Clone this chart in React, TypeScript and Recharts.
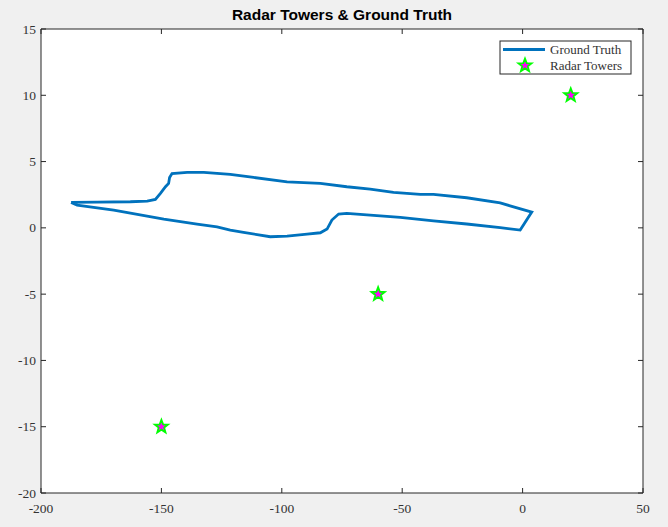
import { CartesianGrid, ReferenceArea, Scatter, ScatterChart, XAxis, YAxis } from "recharts";

// ground truth loop (x, y pairs in order)
const trackX = [
  -187.5, -176.7, -162.9, -155.9, -152.5, -150.4, -148.3, -147.0, -146.6, -145.6, -139.3, -132.4,
  -121.4, -111.7, -97.8, -84, -73, -63.3, -53.6, -42.5, -37, -23.2, -9.3, -5.2, 3.8, -1.0,
  -9.3, -23.2, -37, -50.8, -63.3, -73, -76.4, -79.2, -81.2, -84, -89.5, -97.8, -104.8, -115.9,
  -121.4, -126.9, -135.2, -149, -169.8, -185, -187.5,
];
const trackY = [
  1.92, 1.94, 1.97, 2.02, 2.15, 2.6, 3.1, 3.35, 3.8, 4.1, 4.18, 4.18,
  4.03, 3.8, 3.47, 3.35, 3.1, 2.92, 2.67, 2.52, 2.52, 2.27, 1.89, 1.66, 1.19, -0.17,
  0.01, 0.29, 0.53, 0.79, 0.96, 1.09, 1.04, 0.59, -0.09, -0.37, -0.47, -0.62, -0.67, -0.34,
  -0.17, 0.08, 0.29, 0.66, 1.34, 1.72, 1.92,
];

const towerX = [-150, -60, 20];
const towerY = [-15, -5, 10];

const xTicks = [-200, -150, -100, -50, 0, 50];
const yTicks = [-20, -15, -10, -5, 0, 5, 10, 15];

const W = 668;
const H = 527;
const PLOT = { left: 41, right: 643, top: 29, bottom: 493 };
const TICK_LEN = 5;
const AXIS_COLOR = "#262626";
const LINE_COLOR = "#0072BD";
const LABEL_FONT = '"Liberation Serif", "DejaVu Serif", serif';

const track = trackX.map((x, i) => ({ x, y: trackY[i] }));
const towers = towerX.map((x, i) => ({ x, y: towerY[i] }));

function starPoints(cx: number, cy: number, r: number) {
  const pts: string[] = [];
  for (let i = 0; i < 10; i++) {
    const rr = i % 2 === 0 ? r : r * 0.42;
    const a = -Math.PI / 2 + (i * Math.PI) / 5;
    pts.push(`${cx + rr * Math.cos(a)},${cy + rr * Math.sin(a)}`);
  }
  return pts.join(" ");
}

function Star(props: any) {
  const { cx, cy } = props;
  return <polygon points={starPoints(cx, cy, 7)} fill="#ff00ff" stroke="#00ff00" strokeWidth={1.8} />;
}

function NoDot() {
  return <g />;
}

function XTick(props: any) {
  const { x, payload } = props;
  return (
    <g>
      <line x1={x} x2={x} y1={PLOT.bottom} y2={PLOT.bottom - TICK_LEN} stroke={AXIS_COLOR} />
      <line x1={x} x2={x} y1={PLOT.top} y2={PLOT.top + TICK_LEN} stroke={AXIS_COLOR} />
      <text x={x} y={PLOT.bottom + 20} textAnchor="middle" fontFamily={LABEL_FONT} fontSize={13.5} fill="#333">
        {payload.value}
      </text>
    </g>
  );
}

function YTick(props: any) {
  const { y, payload } = props;
  return (
    <g>
      <line x1={PLOT.left} x2={PLOT.left + TICK_LEN} y1={y} y2={y} stroke={AXIS_COLOR} />
      <line x1={PLOT.right} x2={PLOT.right - TICK_LEN} y1={y} y2={y} stroke={AXIS_COLOR} />
      <text x={PLOT.left - 5} y={y + 4.5} textAnchor="end" fontFamily={LABEL_FONT} fontSize={13.5} fill="#333">
        {payload.value}
      </text>
    </g>
  );
}

function LegendBox() {
  return (
    <svg width={133} height={35} style={{ position: "absolute", left: 499, top: 40 }}>
      <rect x={1} y={1} width={131} height={33} fill="#fff" stroke={AXIS_COLOR} strokeWidth={1} />
      <line x1={4} x2={46} y1={9.5} y2={9.5} stroke={LINE_COLOR} strokeWidth={2.8} />
      <polygon points={starPoints(26, 25.5, 7)} fill="#ff00ff" stroke="#00ff00" strokeWidth={1.8} />
      <text x={51} y={14} fontFamily={LABEL_FONT} fontSize={13} fill="#333">Ground Truth</text>
      <text x={51} y={30} fontFamily={LABEL_FONT} fontSize={13} fill="#333">Radar Towers</text>
    </svg>
  );
}

export default function App() {
  return (
    <div style={{ position: "absolute", left: 0, top: 0, width: W, height: H, background: "#f0f0f0" }}>
      <div
        style={{
          position: "absolute",
          left: PLOT.left,
          width: PLOT.right - PLOT.left,
          top: 6,
          textAlign: "center",
          fontFamily: '"Liberation Sans", Arial, sans-serif',
          fontWeight: "bold",
          fontSize: 15.5,
          color: "#000",
        }}
      >
        Radar Towers &amp; Ground Truth
      </div>
      <div style={{ position: "absolute", left: 0, top: 0 }}>
        <ScatterChart width={W} height={H} margin={{ top: PLOT.top, right: W - PLOT.right, bottom: 0, left: 0 }}>
          <CartesianGrid fill="#fff" horizontal={false} vertical={false} />
          <XAxis
            type="number"
            dataKey="x"
            domain={[-200, 50]}
            ticks={xTicks}
            interval={0}
            allowDataOverflow
            height={H - PLOT.bottom}
            axisLine={false}
            tickLine={false}
            tick={<XTick />}
          />
          <YAxis
            type="number"
            dataKey="y"
            domain={[-20, 15]}
            ticks={yTicks}
            interval={0}
            allowDataOverflow
            width={PLOT.left}
            axisLine={false}
            tickLine={false}
            tick={<YTick />}
          />
          <ReferenceArea x1={-200} x2={50} y1={-20} y2={15} fill="none" stroke={AXIS_COLOR} strokeWidth={1} ifOverflow="visible" />
          <Scatter
            data={track}
            line={{ stroke: LINE_COLOR, strokeWidth: 2.8 }}
            shape={<NoDot />}
            isAnimationActive={false}
          />
          <Scatter data={towers} shape={<Star />} isAnimationActive={false} />
        </ScatterChart>
      </div>
      <LegendBox />
    </div>
  );
}
